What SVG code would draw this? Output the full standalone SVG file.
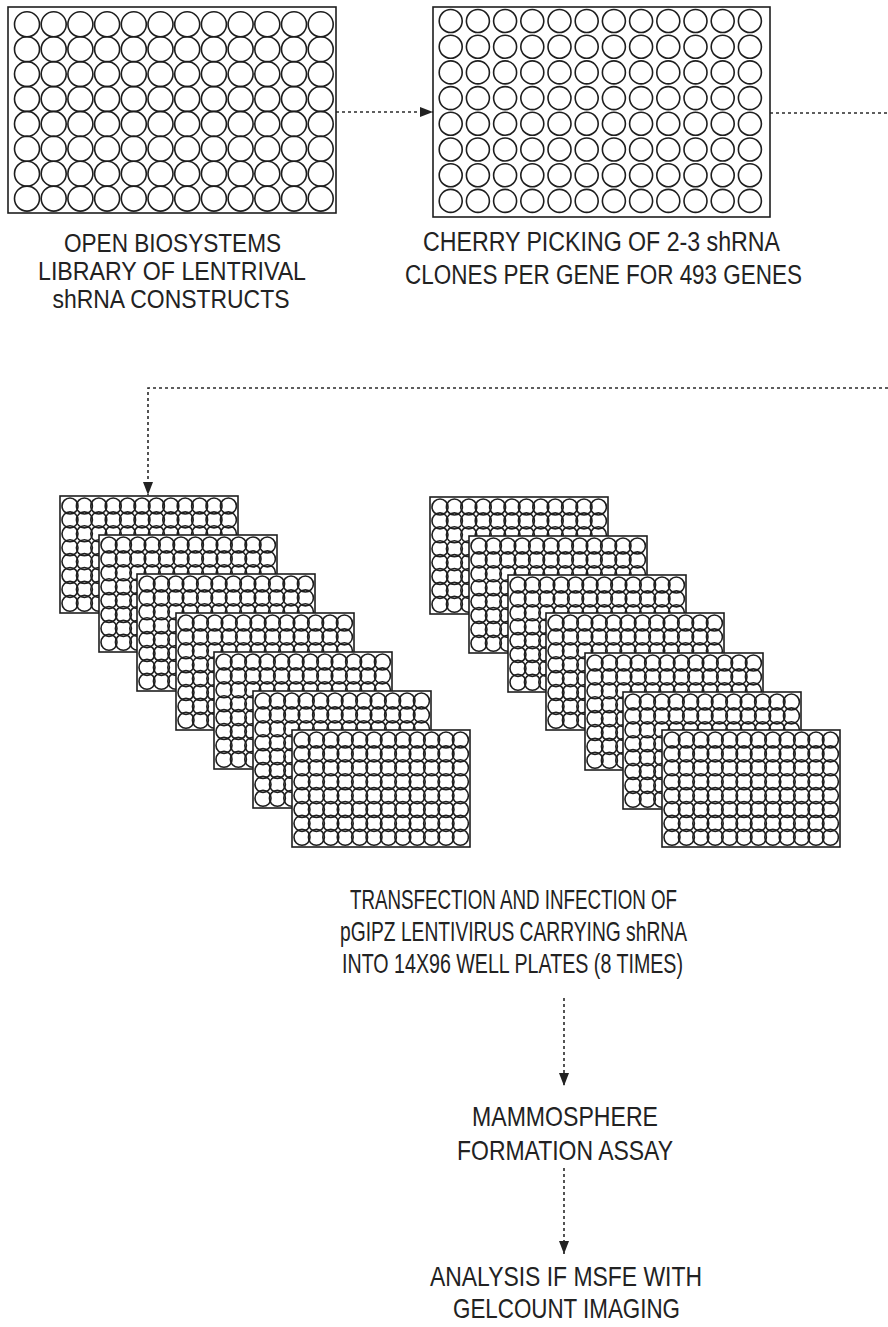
<svg xmlns="http://www.w3.org/2000/svg" xmlns:xlink="http://www.w3.org/1999/xlink" width="888" height="1327" viewBox="0 0 888 1327">
<style>
.plate{fill:#fff;stroke:#1e1e1e;stroke-width:1.6}
.well{fill:none;stroke:#1e1e1e;stroke-width:1.6}
.lbl{font-family:"Liberation Sans",Arial,sans-serif;font-size:28px;fill:#222;text-anchor:middle}
.sm{font-size:25px}
.md{font-size:27px}
.conn{fill:none;stroke:#2a2a2a;stroke-width:1.6;stroke-dasharray:3 3}
</style>
<defs>
<marker id="arrow" markerWidth="13" markerHeight="10" refX="13" refY="5" orient="auto" markerUnits="userSpaceOnUse">
<path d="M0,0 L13,5 L0,10 z" fill="#222"/>
</marker>
<g id="rowA" class="well">
<circle cx="19" cy="0" r="12.5"/><circle cx="45.7" cy="0" r="12.5"/><circle cx="72.4" cy="0" r="12.5"/><circle cx="99.1" cy="0" r="12.5"/><circle cx="125.8" cy="0" r="12.5"/><circle cx="152.5" cy="0" r="12.5"/><circle cx="179.2" cy="0" r="12.5"/><circle cx="205.9" cy="0" r="12.5"/><circle cx="232.6" cy="0" r="12.5"/><circle cx="259.3" cy="0" r="12.5"/><circle cx="286" cy="0" r="12.5"/><circle cx="312.7" cy="0" r="12.5"/>
</g>
<g id="rowB" class="well">
<circle cx="17.7" cy="0" r="11.5"/><circle cx="44.9" cy="0" r="11.5"/><circle cx="72.1" cy="0" r="11.5"/><circle cx="99.3" cy="0" r="11.5"/><circle cx="126.5" cy="0" r="11.5"/><circle cx="153.7" cy="0" r="11.5"/><circle cx="180.9" cy="0" r="11.5"/><circle cx="208.1" cy="0" r="11.5"/><circle cx="235.3" cy="0" r="11.5"/><circle cx="262.5" cy="0" r="11.5"/><circle cx="289.7" cy="0" r="11.5"/><circle cx="316.9" cy="0" r="11.5"/>
</g>
<g id="rowC" class="well">
<circle cx="10" cy="0" r="8"/><circle cx="24.4" cy="0" r="8"/><circle cx="38.8" cy="0" r="8"/><circle cx="53.2" cy="0" r="8"/><circle cx="67.6" cy="0" r="8"/><circle cx="82" cy="0" r="8"/><circle cx="96.4" cy="0" r="8"/><circle cx="110.8" cy="0" r="8"/><circle cx="125.2" cy="0" r="8"/><circle cx="139.6" cy="0" r="8"/><circle cx="154" cy="0" r="8"/><circle cx="168.4" cy="0" r="8"/>
</g>
<g id="plateC">
<rect class="plate" x="0" y="0" width="178" height="117"/>
<use xlink:href="#rowC" y="10"/><use xlink:href="#rowC" y="23.9"/><use xlink:href="#rowC" y="37.8"/><use xlink:href="#rowC" y="51.7"/><use xlink:href="#rowC" y="65.6"/><use xlink:href="#rowC" y="79.5"/><use xlink:href="#rowC" y="93.4"/><use xlink:href="#rowC" y="107.3"/>
</g>
</defs>
<rect width="888" height="1327" fill="#fff"/>

<g id="connectors">
<path class="conn" d="M336,112 H433" marker-end="url(#arrow)"/>
<path class="conn" d="M770,113 H888"/>
<path class="conn" d="M888,388 H148 V495" marker-end="url(#arrow)"/>
<path class="conn" d="M564,998 V1086" marker-end="url(#arrow)"/>
<path class="conn" d="M564,1168 V1254" marker-end="url(#arrow)"/>
</g>

<g id="node-library">
<rect class="plate" x="8" y="7" width="328" height="206"/>
<g transform="translate(8,7)">
<use xlink:href="#rowA" y="17.3"/><use xlink:href="#rowA" y="42.2"/><use xlink:href="#rowA" y="67.1"/><use xlink:href="#rowA" y="92"/><use xlink:href="#rowA" y="116.9"/><use xlink:href="#rowA" y="141.8"/><use xlink:href="#rowA" y="166.7"/><use xlink:href="#rowA" y="191.6"/>
</g>
<text class="lbl sm" x="172.5" y="252" textLength="217" lengthAdjust="spacingAndGlyphs">OPEN BIOSYSTEMS</text>
<text class="lbl sm" x="172" y="280" textLength="268" lengthAdjust="spacingAndGlyphs">LIBRARY OF LENTRIVAL</text>
<text class="lbl sm" x="171" y="308" textLength="237" lengthAdjust="spacingAndGlyphs">shRNA CONSTRUCTS</text>
</g>

<g id="node-cherry">
<rect class="plate" x="433" y="7" width="337" height="210"/>
<g transform="translate(433,7)">
<use xlink:href="#rowB" y="14"/><use xlink:href="#rowB" y="39.7"/><use xlink:href="#rowB" y="65.4"/><use xlink:href="#rowB" y="91.1"/><use xlink:href="#rowB" y="116.8"/><use xlink:href="#rowB" y="142.5"/><use xlink:href="#rowB" y="168.2"/><use xlink:href="#rowB" y="193.9"/>
</g>
<text class="lbl md" x="601.5" y="251" textLength="357" lengthAdjust="spacingAndGlyphs">CHERRY PICKING OF 2-3 shRNA</text>
<text class="lbl md" x="603.5" y="284" textLength="397" lengthAdjust="spacingAndGlyphs">CLONES PER GENE FOR 493 GENES</text>
</g>

<g id="node-plates-left">
<use xlink:href="#plateC" x="60" y="496"/>
<use xlink:href="#plateC" x="99" y="535"/>
<use xlink:href="#plateC" x="137" y="574"/>
<use xlink:href="#plateC" x="176" y="613"/>
<use xlink:href="#plateC" x="214" y="652"/>
<use xlink:href="#plateC" x="253" y="691"/>
<use xlink:href="#plateC" x="292" y="730"/>
</g>

<g id="node-plates-right">
<use xlink:href="#plateC" x="430" y="497"/>
<use xlink:href="#plateC" x="469" y="536"/>
<use xlink:href="#plateC" x="508" y="575"/>
<use xlink:href="#plateC" x="546" y="613"/>
<use xlink:href="#plateC" x="585" y="653"/>
<use xlink:href="#plateC" x="623" y="692"/>
<use xlink:href="#plateC" x="662" y="730"/>
</g>

<g id="node-transfection">
<text class="lbl" x="513.5" y="909" textLength="327" lengthAdjust="spacingAndGlyphs">TRANSFECTION AND INFECTION OF</text>
<text class="lbl" x="513.5" y="941" textLength="347" lengthAdjust="spacingAndGlyphs">pGIPZ LENTIVIRUS CARRYING shRNA</text>
<text class="lbl" x="512.5" y="973" textLength="341" lengthAdjust="spacingAndGlyphs">INTO 14X96 WELL PLATES (8 TIMES)</text>
</g>

<g id="node-mammosphere">
<text class="lbl" x="565" y="1126" textLength="186" lengthAdjust="spacingAndGlyphs">MAMMOSPHERE</text>
<text class="lbl" x="565" y="1160" textLength="216" lengthAdjust="spacingAndGlyphs">FORMATION ASSAY</text>
</g>

<g id="node-analysis">
<text class="lbl" x="566" y="1286" textLength="272" lengthAdjust="spacingAndGlyphs">ANALYSIS IF MSFE WITH</text>
<text class="lbl" x="566.5" y="1318" textLength="227" lengthAdjust="spacingAndGlyphs">GELCOUNT IMAGING</text>
</g>
</svg>
